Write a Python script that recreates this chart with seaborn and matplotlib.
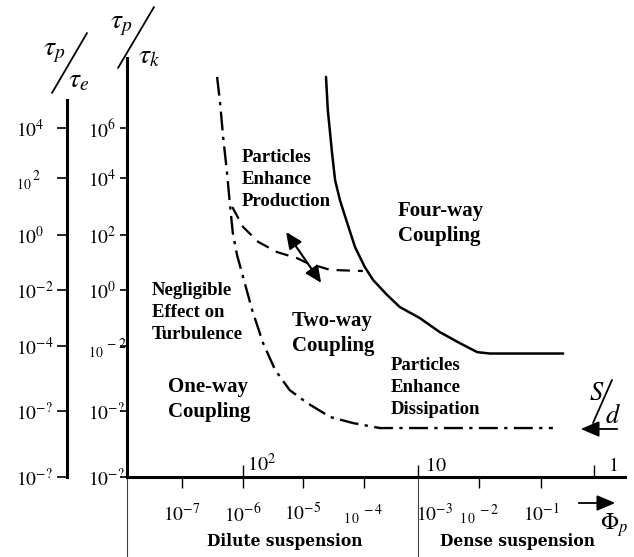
import matplotlib
matplotlib.use("Agg")
import matplotlib.pyplot as plt
import matplotlib.transforms as mtransforms
from matplotlib.lines import Line2D
from matplotlib.patches import FancyArrowPatch
import seaborn as sns

# ---------------- data (x = log10 Phi_p position, y = log10 tau_p/tau_k) ----------------
oneway_x = [-6.42, -6.37, -6.32, -6.26, -6.21, -6.16, -6.09, -5.99, -5.84, -5.66,
            -5.46, -5.22, -4.93, -4.55, -4.17, -3.73, -0.87]
oneway_y = [7.75, 6.80, 5.56, 4.36, 3.16, 2.07, 1.27, 0.47, -0.73, -1.93,
            -2.91, -3.64, -4.11, -4.62, -4.84, -5.02, -5.02]

prod_x = [-6.17, -5.99, -5.74, -5.43, -5.10, -4.93, -4.55, -4.01]
prod_y = [3.02, 2.29, 1.75, 1.38, 1.16, 0.98, 0.73, 0.69]

fourway_x = [-4.62, -4.59, -4.52, -4.47, -4.39, -4.27, -4.14, -3.98, -3.84, -3.61,
             -3.40, -3.07, -2.74, -2.41, -2.12, -1.91, -0.70]
fourway_y = [7.75, 6.55, 4.98, 4.00, 3.27, 2.44, 1.56, 0.84, 0.36, -0.18,
             -0.62, -1.02, -1.53, -1.93, -2.26, -2.31, -2.31]

arrow_start = (-5.28, 2.11)
arrow_end = (-4.70, 0.26)

phi_tick_pos = [-7, -6, -5, -4, -2.83, -2.09, -1.07]
phi_tick_labels = [r'$10^{-7}$', r'$10^{-6}$', r'$10^{-5}$', r'${}_{1\,0}{}^{\,-4}$',
                   r'$10^{-3}$', r'${}_{1\,0}{}^{\,-2}$', r'$10^{-1}$']
sd_tick_pos = [-6.0, -3.10, -0.19]
sd_label_pos = [-5.92, -2.99, 0.04]
sd_tick_labels = [r'$10^{2}$', r'$10$', r'$1$']
divider_x = -3.10

y_tick_pos = [5.89, 4.07, 2.0, 0.0, -2.04, -4.4, -6.8]
tk_labels = [r'$10^{6}$', r'$10^{4}$', r'$10^{2}$', r'$10^{0}$', r'${}_{10}{}^{\,-2}$',
             r'$10^{-?}$', r'$10^{-?}$']
te_labels = [r'$10^{4}$', r'${}_{10}{}^{\,2}$', r'$10^{0}$', r'$10^{-2}$', r'$10^{-4}$',
             r'$10^{-?}$', r'$10^{-?}$']

region_texts = ["Particles\nEnhance\nProduction", "Four-way\nCoupling", "Two-way\nCoupling",
                "Negligible\nEffect on\nTurbulence", "One-way\nCoupling",
                "Particles\nEnhance\nDissipation"]
region_x = [-6.01, -3.43, -5.18, -7.50, -7.23, -3.55]
region_y = [5.13, 3.24, -0.76, 0.29, -3.16, -2.44]
region_size = [13.5, 15, 15, 13.5, 15, 13.5]
region_spacing = [1.37, 1.32, 1.32, 1.37, 1.32, 1.37]

# ---------------- style ----------------
sns.set_theme(style="white")
plt.rcParams['font.family'] = ['Liberation Serif', 'DejaVu Serif']
plt.rcParams['mathtext.fontset'] = 'stix'
plt.rcParams['text.color'] = 'black'

W, H = 634, 557
fig = plt.figure(figsize=(W / 100, H / 100), dpi=100)
ax = fig.add_axes([127 / W, 1 - 477 / H, (625 - 127) / W, (477 - 58) / H])
ax.set_xlim(-7.909, 0.322)
ax.set_ylim(-6.8, 8.436)
ax.patch.set_alpha(0)

for s in ['top', 'right']:
    ax.spines[s].set_visible(False)
for s in ['left', 'bottom']:
    ax.spines[s].set_linewidth(2.2)
    ax.spines[s].set_color('black')

# curves
sns.lineplot(x=oneway_x, y=oneway_y, ax=ax, color='black', linewidth=1.7,
             linestyle=(0, (8, 2.7, 1.4, 2.7)), sort=False, estimator=None)
sns.lineplot(x=prod_x, y=prod_y, ax=ax, color='black', linewidth=1.6,
             linestyle=(0, (6, 3.6)), sort=False, estimator=None)
sns.lineplot(x=fourway_x, y=fourway_y, ax=ax, color='black', linewidth=1.8,
             sort=False, estimator=None)
ax.annotate('', xy=arrow_end, xytext=arrow_start,
            arrowprops=dict(arrowstyle='<|-|>,head_length=0.55,head_width=0.25',
                            color='black', lw=1.5, mutation_scale=18,
                            shrinkA=0, shrinkB=0))

# region labels
for t, x, y, fs, ls in zip(region_texts, region_x, region_y, region_size, region_spacing):
    ax.text(x, y, t, ha='left', va='top', fontsize=fs, fontweight='bold',
            linespacing=ls)

# x axis (Phi_p)
ax.set_xticks(phi_tick_pos, phi_tick_labels)
ax.tick_params(axis='x', which='major', direction='out', length=8, width=1.0,
               pad=10.5, labelsize=14, color='black', labelcolor='black', bottom=True)
ax.xaxis.get_major_ticks()[4].tick1line.set_visible(False)
ax.xaxis.remove_overlapping_locs = False
ax.set_xticks(sd_tick_pos, minor=True)
ax.tick_params(axis='x', which='minor', direction='in', length=9, width=1.0,
               color='black', bottom=True)
blend = mtransforms.blended_transform_factory(ax.transData, ax.transAxes)
off = mtransforms.ScaledTranslation(0, 4 / 72, fig.dpi_scale_trans)
for x, lab in zip(sd_label_pos, sd_tick_labels):
    ax.text(x, 0, lab, transform=blend + off, ha='left', va='baseline', fontsize=14.5)

# thin lines below the axis
ax.plot([ax.get_xlim()[0]] * 2, [0, -0.191], transform=blend, clip_on=False,
        color='0.25', lw=0.8)
ax.plot([divider_x] * 2, [0, -0.191], transform=blend, clip_on=False,
        color='0.25', lw=0.8)

# inner y axis (tau_p / tau_k)
ax.set_yticks(y_tick_pos, tk_labels, ha='left')
ax.tick_params(axis='y', direction='out', length=5, width=1.2, pad=23, labelsize=14,
               color='black', labelcolor='black', left=True)

# outer y axis (tau_p / tau_e)
ax2 = ax.twinx()
ax2.set_ylim(ax.get_ylim())
for s in ['top', 'right', 'bottom']:
    ax2.spines[s].set_visible(False)
ax2.spines['left'].set_visible(True)
ax2.spines['left'].set_position(('outward', 43.2))
ax2.spines['left'].set_bounds(-6.8, 6.91)
ax2.spines['left'].set_linewidth(2.2)
ax2.spines['left'].set_color('black')
ax2.yaxis.tick_left()
ax2.set_yticks(y_tick_pos, te_labels, ha='left')
ax2.tick_params(axis='y', direction='out', length=7, width=1.2, pad=30, labelsize=14,
                color='black', labelcolor='black', left=True, right=False,
                labelleft=True, labelright=False)

# axis titles
def px(x, y):
    return x / W, 1 - y / H

fig.text(*px(43, 55), r'$\tau_p$', fontsize=20, ha='left', va='baseline')
fig.text(*px(68, 87), r'$\tau_e$', fontsize=20, ha='left', va='baseline')
fig.add_artist(Line2D([52 / W, 87 / W], [1 - 93 / H, 1 - 33 / H], color='black', lw=1.3))
fig.text(*px(110, 28), r'$\tau_p$', fontsize=20, ha='left', va='baseline')
fig.text(*px(138, 63), r'$\tau_k$', fontsize=20, ha='left', va='baseline')
fig.add_artist(Line2D([118 / W, 154 / W], [1 - 68 / H, 1 - 7 / H], color='black', lw=1.3))

fig.text(*px(589, 400), r'$S$', fontsize=19, ha='left', va='baseline')
fig.text(*px(605, 423), r'$d$', fontsize=19, ha='left', va='baseline')
fig.add_artist(Line2D([593 / W, 612 / W], [1 - 423 / H, 1 - 380 / H], color='black', lw=1.3))
fig.add_artist(FancyArrowPatch(px(620, 429), px(578, 429), transform=fig.transFigure,
                               arrowstyle='-|>,head_length=0.7,head_width=0.3',
                               mutation_scale=16, color='black', lw=1.3))
fig.add_artist(FancyArrowPatch(px(576, 503), px(618, 503), transform=fig.transFigure,
                               arrowstyle='-|>,head_length=0.7,head_width=0.3',
                               mutation_scale=16, color='black', lw=1.3))
fig.text(*px(600, 530), r'$\Phi_p$', fontsize=17, ha='left', va='baseline')

fig.text(*px(285, 541), 'Dilute suspension', family='DejaVu Serif', fontweight='bold',
         fontsize=11.2, ha='center', va='center')
fig.text(*px(517, 541), 'Dense suspension', family='DejaVu Serif', fontweight='bold',
         fontsize=11.2, ha='center', va='center')

fig.savefig('out.png', dpi=100)
